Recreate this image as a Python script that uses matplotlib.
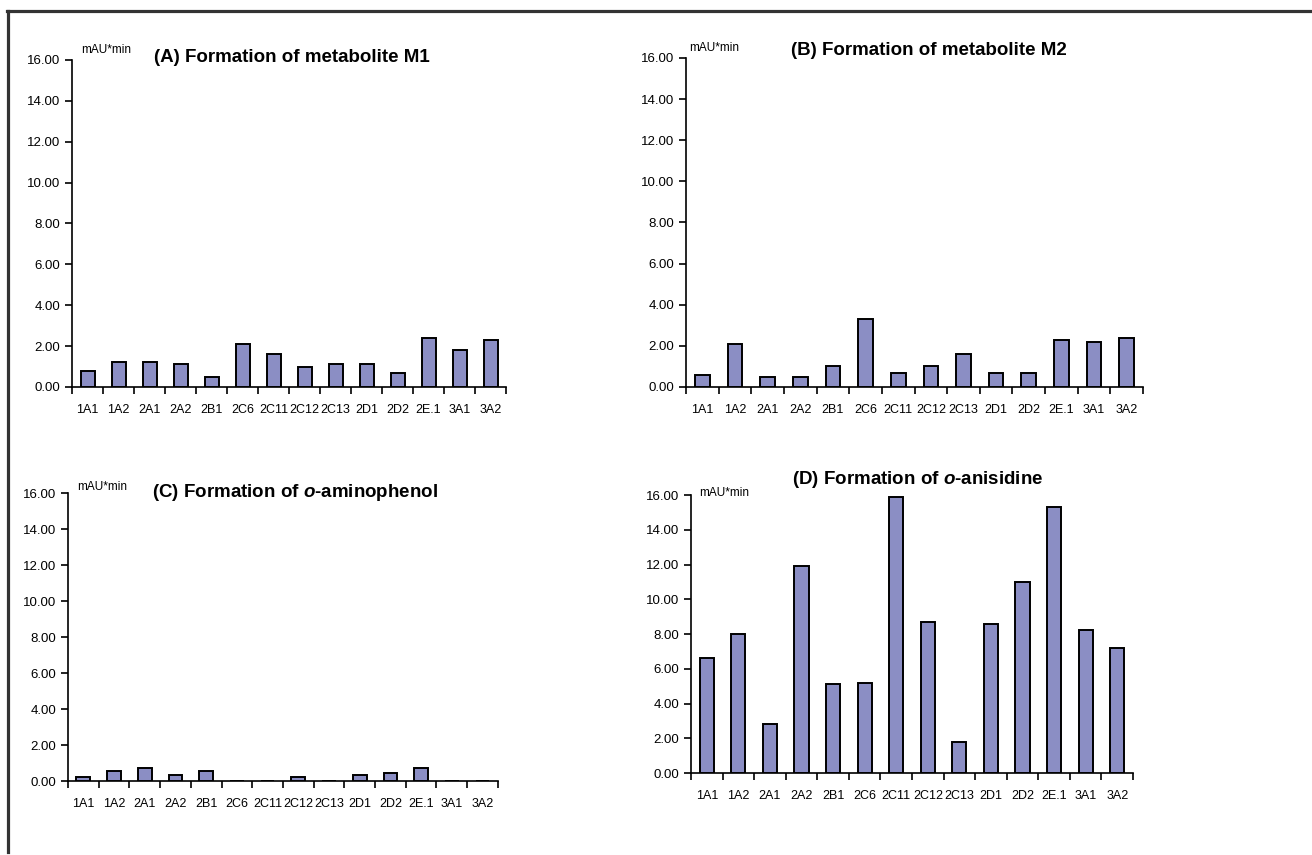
import numpy as np
from matplotlib import pyplot as plt
from matplotlib import font_manager
from matplotlib.lines import Line2D

isoforms = ["1A1", "1A2", "2A1", "2A2", "2B1", "2C6", "2C11", "2C12", "2C13",
            "2D1", "2D2", "2E.1", "3A1", "3A2"]

# peak areas, mAU*min
m1_area = [0.8, 1.2, 1.2, 1.1, 0.5, 2.1, 1.6, 1.0, 1.1, 1.1, 0.7, 2.4, 1.8, 2.3]
m2_area = [0.6, 2.1, 0.5, 0.5, 1.0, 3.3, 0.7, 1.0, 1.6, 0.7, 0.7, 2.3, 2.2, 2.4]
aminophenol_area = [0.22, 0.55, 0.7, 0.35, 0.55, 0.0, 0.0, 0.22, 0.0, 0.35, 0.45, 0.7, 0.0, 0.0]
anisidine_area = [6.6, 8.0, 2.8, 11.9, 5.1, 5.2, 15.9, 8.7, 1.8, 8.6, 11.0, 15.3, 8.25, 7.2]

y_ticks = np.arange(0, 16.01, 2.0)

installed = {f.name for f in font_manager.fontManager.ttflist}
font = "Liberation Sans Narrow" if "Liberation Sans Narrow" in installed else "Liberation Sans"
plt.rcParams['font.family'] = [font, 'DejaVu Sans']
plt.rcParams['mathtext.fontset'] = 'custom'
plt.rcParams['mathtext.it'] = font + ':italic:bold'
plt.rcParams['mathtext.rm'] = font + ':bold'

bar_color = '#8b8ec4'


def bar_panel(fig, rect, values, title, title_xy, unit_xy):
    ax = fig.add_axes(rect)
    x = np.arange(len(isoforms))
    ax.bar(x, values, width=0.45, color=bar_color, edgecolor='black', linewidth=1.4, zorder=3)
    ax.set_xlim(-0.5, len(isoforms) - 0.5)
    ax.set_ylim(0, 16)
    ax.set_yticks(y_ticks)
    ax.set_yticklabels(["%.2f" % v for v in y_ticks])
    ax.set_xticks(x)
    ax.set_xticklabels(isoforms)
    ax.set_xticks(np.arange(-0.5, len(isoforms)), minor=True)
    ax.tick_params(axis='x', which='major', length=0, pad=12, labelsize=9)
    ax.tick_params(axis='x', which='minor', length=5, width=1.2, direction='out')
    ax.tick_params(axis='y', length=5, width=1.2, direction='out', labelsize=9.5)
    for side in ['top', 'right']:
        ax.spines[side].set_visible(False)
    for side in ['left', 'bottom']:
        ax.spines[side].set_linewidth(1.2)
    fig.text(title_xy[0], title_xy[1], title, ha='center', va='center',
             fontsize=13.5, fontweight='bold')
    fig.text(unit_xy[0], unit_xy[1], "mAU*min", ha='center', va='center', fontsize=8.5)
    return ax


fig = plt.figure(figsize=(13.12, 8.55), dpi=100)

bar_panel(fig, [0.0549, 0.5474, 0.3308, 0.3825], m1_area,
          "(A) Formation of metabolite M1", (0.2226, 0.9333), (0.0808, 0.9415))
bar_panel(fig, [0.5229, 0.5474, 0.3483, 0.3848], m2_area,
          "(B) Formation of metabolite M2", (0.7081, 0.9415), (0.5442, 0.9439))
bar_panel(fig, [0.0518, 0.0865, 0.3277, 0.3368], aminophenol_area,
          "(C) Formation of $\\mathit{o}$-aminophenol", (0.2248, 0.4234), (0.0777, 0.4304))
bar_panel(fig, [0.5267, 0.0959, 0.3369, 0.3251], anisidine_area,
          "(D) Formation of $\\mathit{o}$-anisidine", (0.6997, 0.4386), (0.5518, 0.4234))

# frame along the top and left edge
fig.add_artist(Line2D([0.0053, 1.0], [0.987, 0.987], color='#333333', lw=2.3))
fig.add_artist(Line2D([0.0061, 0.0061], [0.987, 0.0035], color='#333333', lw=2.3))

plt.savefig("out.png", dpi=100)
